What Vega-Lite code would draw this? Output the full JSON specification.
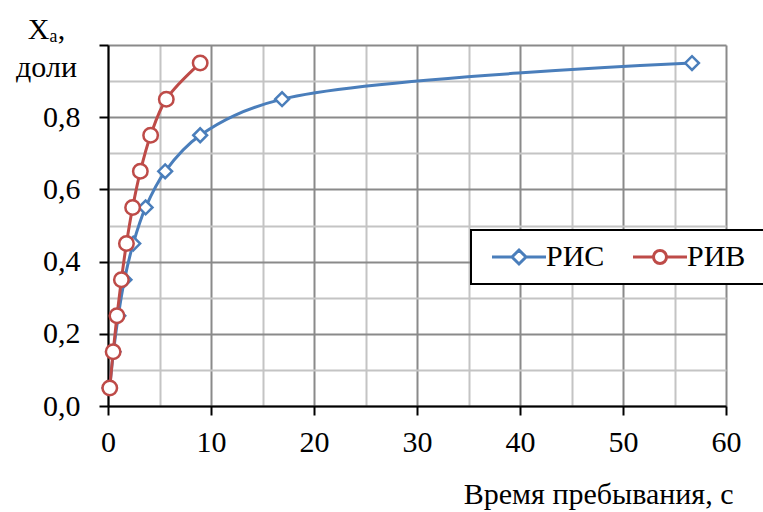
{
  "$schema": "https://vega.github.io/schema/vega-lite/v6.json",
  "width": 618,
  "height": 361,
  "autosize": "none",
  "padding": {"left": 108, "top": 45, "right": 37, "bottom": 106},
  "background": "white",
  "config": {
    "view": {"stroke": null},
    "font": "Liberation Serif",
    "axis": {
      "labelFont": "Liberation Serif",
      "titleFont": "Liberation Serif",
      "labelColor": "black",
      "titleColor": "black",
      "titleFontWeight": "normal",
      "labelFontSize": 30,
      "titleFontSize": 30,
      "domainColor": "black",
      "domainWidth": 2,
      "tickWidth": 2,
      "tickSize": 9,
      "gridWidth": 2
    }
  },
  "data": {
    "values": [
      {"t": 0.16, "x": 0.05, "s": "РИС"},
      {"t": 0.53, "x": 0.15, "s": "РИС"},
      {"t": 1.0, "x": 0.25, "s": "РИС"},
      {"t": 1.6, "x": 0.35, "s": "РИС"},
      {"t": 2.45, "x": 0.45, "s": "РИС"},
      {"t": 3.65, "x": 0.55, "s": "РИС"},
      {"t": 5.55, "x": 0.65, "s": "РИС"},
      {"t": 8.95, "x": 0.75, "s": "РИС"},
      {"t": 16.9, "x": 0.85, "s": "РИС"},
      {"t": 56.7, "x": 0.95, "s": "РИС"},
      {"t": 0.17, "x": 0.05, "s": "РИВ"},
      {"t": 0.5, "x": 0.15, "s": "РИВ"},
      {"t": 0.87, "x": 0.25, "s": "РИВ"},
      {"t": 1.3, "x": 0.35, "s": "РИВ"},
      {"t": 1.79, "x": 0.45, "s": "РИВ"},
      {"t": 2.39, "x": 0.55, "s": "РИВ"},
      {"t": 3.14, "x": 0.65, "s": "РИВ"},
      {"t": 4.14, "x": 0.75, "s": "РИВ"},
      {"t": 5.66, "x": 0.85, "s": "РИВ"},
      {"t": 8.95, "x": 0.95, "s": "РИВ"}
    ]
  },
  "encoding": {
    "x": {
      "field": "t", "type": "quantitative",
      "scale": {"domain": [0, 60], "nice": false, "zero": false},
      "axis": {
        "values": [0, 5, 10, 15, 20, 25, 30, 35, 40, 45, 50, 55, 60],
        "labelExpr": "datum.value % 10 === 0 ? datum.value : ''",
        "tickColor": {"condition": {"test": "datum.value % 10 === 0", "value": "black"}, "value": "transparent"},
        "gridColor": {"condition": {"test": "datum.value % 10 === 0", "value": "#8a8a8a"}, "value": "#c4c4c4"},
        "labelPadding": 12,
        "labelFlush": false,
        "title": "Время пребывания, с",
        "titleAnchor": "end",
        "titleAlign": "right",
        "titleBaseline": "alphabetic",
        "titleX": 625,
        "titleY": 97
      }
    },
    "y": {
      "field": "x", "type": "quantitative",
      "scale": {"domain": [0, 1], "nice": false},
      "axis": {
        "values": [0, 0.1, 0.2, 0.3, 0.4, 0.5, 0.6, 0.7, 0.8, 0.9, 1.0],
        "labelExpr": "(round(datum.value * 10) % 2 === 0 && datum.value < 0.99) ? replace(format(datum.value, '.1f'), '.', ',') : ''",
        "tickColor": {"condition": {"test": "round(datum.value * 10) % 2 === 0", "value": "black"}, "value": "transparent"},
        "gridColor": {"condition": {"test": "round(datum.value * 10) % 2 === 0", "value": "#8a8a8a"}, "value": "#c4c4c4"},
        "labelPadding": 19,
        "labelFlush": false,
        "title": ["Xₐ,", "доли"],
        "titleAngle": 0,
        "titleAlign": "center",
        "titleBaseline": "alphabetic",
        "titleAnchor": "end",
        "titleLineHeight": 38,
        "titleX": -62,
        "titleY": -7
      }
    },
    "color": {
      "field": "s", "type": "nominal",
      "scale": {"domain": ["РИС", "РИВ"], "range": ["#4A7EBB", "#BE4B48"]},
      "legend": {
        "title": null,
        "orient": "none",
        "direction": "horizontal",
        "values": ["РИС", "РИВ", ""],
        "legendX": 363,
        "legendY": 185,
        "zindex": 5,
        "padding": 12,
        "fillColor": "white",
        "strokeColor": "black",
        "labelFont": "Liberation Serif",
        "labelFontSize": 30,
        "labelColor": "black",
        "symbolSize": 400,
        "symbolOffset": 21,
        "labelOffset": 12,
        "columnPadding": 19,
        "symbolStrokeWidth": 3,
        "encode": {
          "legend": {"update": {"strokeWidth": {"value": 2}}},
          "symbols": {
            "update": {
              "shape": {"signal": "datum.value === 'РИС' ? 'M-2.7,0L-0.7,0M0.7,0L2.7,0M0,-0.7L0.7,0L0,0.7L-0.7,0Z' : 'M-2.7,0L-0.65,0M0.65,0L2.7,0M0.65,0A0.65,0.65 0 1,1 -0.65,0A0.65,0.65 0 1,1 0.65,0Z'"},
              "fill": {"value": "white"},
              "opacity": {"signal": "datum.value === '' ? 0 : 1"},
              "strokeWidth": {"value": 3},
              "size": {"value": 400}
            }
          }
        }
      }
    }
  },
  "layer": [
    {
      "data": {"values": [{"edge": "top"}]},
      "mark": {"type": "rule", "color": "black", "strokeWidth": 2},
      "encoding": {
        "x": {"datum": 0},
        "x2": {"datum": 60},
        "y": {"datum": 1},
        "color": {"value": "black"}
      }
    },
    {
      "data": {"values": [{"edge": "right"}]},
      "mark": {"type": "rule", "color": "black", "strokeWidth": 2},
      "encoding": {
        "x": {"datum": 60},
        "y": {"datum": 0},
        "y2": {"datum": 1},
        "color": {"value": "black"}
      }
    },
    {
      "mark": {"type": "line", "strokeWidth": 3, "interpolate": "catmull-rom"}
    },
    {
      "transform": [{"filter": "datum.s === 'РИС'"}],
      "mark": {"type": "point", "shape": "diamond", "filled": false, "fill": "white", "fillOpacity": 1, "opacity": 1, "strokeWidth": 2.5, "size": 190}
    },
    {
      "transform": [{"filter": "datum.s === 'РИВ'"}],
      "mark": {"type": "point", "shape": "circle", "filled": false, "fill": "white", "fillOpacity": 1, "opacity": 1, "strokeWidth": 2.5, "size": 210}
    }
  ]
}
